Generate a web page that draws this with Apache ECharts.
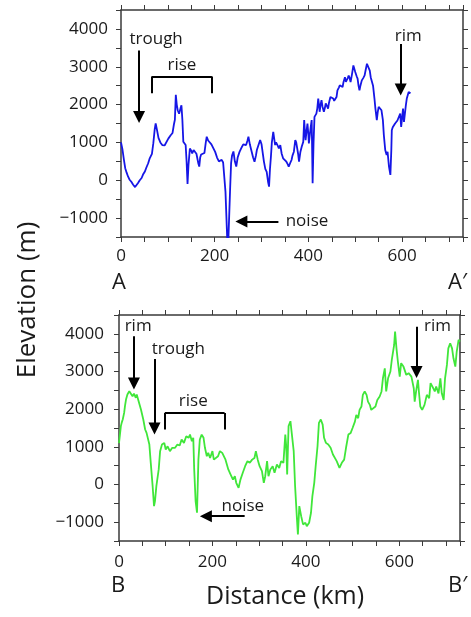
<!DOCTYPE html>
<html>
<head>
<meta charset="utf-8">
<script src="https://cdn.jsdelivr.net/npm/echarts@6/dist/echarts.min.js"></script>
<style>
html,body{margin:0;padding:0;background:#fff;}
#chart{width:471px;height:617px;}
</style>
</head>
<body>
<div id="chart"></div>
<script>
// profile A-A' (blue)
var topKm=[0,3,6,9,12,15,18,22,26,30,33,36,40,44,47,51,54,58,61,64,66,69,72,74,77,80,84,88,93,97,101,106,110,113,115,117,119,121,124,127,129,131,133,136,138,140,142,144,147,150,152,155,158,161,163,165,167,169,171,175,178,181,183,186,189,193,197,201,205,209,212,215,218,220,223,226,228,231,233,235,237,240,243,246,249,253,258,261,264,267,270,272,275,278,282,285,288,290,294,297,300,302,305,308,311,314,316,318,320,322,325,327,329,331,333,335,337,340,343,346,350,353,356,358,361,364,366,369,372,374,376,378,380,383,386,389,391,393,394,396,398,400,401,403,405,407,408,409,411,413,415,417,419,421,423,424,426,428,430,433,435,437,440,442,444,447,450,453,455,458,460,462,465,467,470,473,475,478,480,481,484,486,488,490,493,496,498,500,503,505,507,509,511,514,517,520,522,525,527,529,531,533,536,538,541,543,546,548,550,552,554,556,559,561,564,567,569,570,572,575,577,578,580,583,585,588,590,593,596,598,602,604,608,610,614,618];
var topElev=[1000,820,560,320,200,100,20,-40,-120,-180,-140,-80,0,60,150,230,330,450,570,600,700,980,1350,1500,1320,1120,1000,930,920,950,1100,1190,1250,1480,1600,2260,2000,1850,1760,1900,1980,1600,1020,980,930,500,-100,400,840,780,710,800,750,700,720,450,360,600,680,700,720,1000,1150,1050,1000,950,920,750,600,500,520,540,470,460,-300,-1300,-2000,-2000,-200,450,650,760,500,360,600,750,880,950,980,930,1050,1150,950,800,600,490,650,800,950,1060,950,900,500,300,220,-50,-170,300,620,1000,1280,1100,930,1000,1015,900,840,930,700,580,530,490,420,360,450,535,650,755,1060,1000,1015,700,490,755,900,1015,1590,1200,1060,1300,1500,1200,975,1200,1410,1590,800,-80,1000,1675,1650,1760,1900,2160,1950,1810,2000,2115,1950,1810,1900,2030,1950,1895,2050,2200,2180,2160,2100,2070,2200,2375,2450,2510,2480,2465,2600,2725,2600,2550,2700,2770,2700,2595,2800,3035,2990,2860,2750,2685,2500,2375,2500,2640,2700,2770,2900,3080,3100,3080,2900,2725,2685,2500,2160,1900,1590,1800,1940,1970,1980,1850,1590,1200,800,665,750,800,360,140,800,1320,1400,1430,1500,1540,1580,1630,1760,1410,1895,1540,1980,2160,2330,2300];
// profile B-B' (green)
var botKm=[0,2,4,6,8,11,13,15,18,22,25,29,32,36,38,42,47,52,56,59,62,65,68,72,75,77,80,85,88,92,97,100,104,109,114,120,125,130,134,139,144,149,152,156,159,161,164,167,170,173,177,181,184,188,191,195,200,203,207,212,216,221,225,228,234,239,244,248,251,256,260,265,270,275,280,285,290,293,297,301,306,310,313,317,320,324,329,333,338,343,347,352,356,358,360,363,367,370,374,377,381,383,386,390,394,399,402,407,411,414,418,421,425,428,432,436,439,443,448,453,458,461,466,472,477,482,486,491,496,500,505,508,512,515,519,522,526,530,533,537,540,544,549,553,558,562,565,569,572,576,581,584,589,591,594,597,601,604,609,615,620,626,631,633,636,640,642,645,649,654,659,664,667,671,676,679,684,688,691,695,698,702,705,709,713,716,720,723,727,730];
var botElev=[1100,1150,1550,1650,1725,1900,2100,2255,2390,2475,2430,2340,2415,2300,2390,2210,1990,1725,1460,1370,1325,1060,575,-45,-575,-440,-45,400,885,1060,1105,930,1015,885,975,975,1060,1035,1195,1105,1280,1240,1325,1150,1240,400,-440,-750,660,1195,1325,1240,975,750,840,705,885,660,620,750,885,840,885,660,400,265,130,220,45,-90,130,310,485,620,575,660,705,885,660,485,355,45,220,620,220,400,485,310,530,440,620,575,1325,1015,265,1550,1680,1635,885,-45,-930,-1325,-575,-840,-1060,-1015,-1105,-1015,-750,-310,45,485,1015,1635,1725,1590,1240,1105,1060,975,795,840,620,440,575,660,975,1325,1370,1500,1670,1850,1760,1980,2070,2380,2470,2380,2200,2115,1980,1935,2070,2245,2335,2470,2820,3085,2470,2820,3000,3310,3705,4060,3615,3265,2865,3220,3130,2910,2955,2865,2555,2200,2470,2780,2470,2070,1980,2115,2380,2290,2690,2600,2470,2600,2420,2820,2420,2245,2820,3175,3615,3750,3615,3350,3130,3530,3840,3795];

var xLabels=[0,200,400,600];
var yLabels=[-1000,0,1000,2000,3000,4000];

var FONT='Open Sans';
var INK='#1a1a1a';
var FRAME='#3a3a3a';

function zip(a,b){
	var out=[];
	for(var i=0;i<a.length;i++){
		out.push([a[i],b[i]]);
	}
	return out;
}

function xAxisDef(grid,pos,labels,margin){
	return {
		type:'value',gridIndex:grid,position:pos,min:0,max:730,interval:50,
		axisLine:{show:true,onZero:false,lineStyle:{color:FRAME,width:1.5}},
		axisTick:{show:true,length:5,lineStyle:{color:FRAME,width:1}},
		splitLine:{show:false},
		axisLabel:{show:labels,margin:margin,fontFamily:FONT,fontSize:17,color:INK,
			formatter:function(v){return xLabels.indexOf(v)>=0?String(v):'';}}
	};
}
function yAxisDef(grid,pos,labels,margin){
	return {
		type:'value',gridIndex:grid,position:pos,min:-1500,max:4500,interval:500,
		axisLine:{show:true,onZero:false,lineStyle:{color:FRAME,width:1.5}},
		axisTick:{show:true,length:5,lineStyle:{color:FRAME,width:1}},
		splitLine:{show:false},
		axisLabel:{show:labels,margin:margin,fontFamily:FONT,fontSize:17,color:INK,
			formatter:function(v){
				if(yLabels.indexOf(v)<0) return '';
				return v<0?'\u2212'+(-v):String(v);
			}}
	};
}

// arrow from (x1,y1) to (x2,y2), head drawn at the end
function arrow(x1,y1,x2,y2){
	return [{coord:[x1,y1],symbol:'none'},{coord:[x2,y2],symbol:'triangle'}];
}
function seg(x1,y1,x2,y2){
	return [{coord:[x1,y1],symbol:'none'},{coord:[x2,y2],symbol:'none'}];
}
function note(txt,x,y){
	return {name:txt,coord:[x,y]};
}

var markLineStyle={
	silent:true,animation:false,symbolSize:12,
	label:{show:false},
	lineStyle:{color:'#000',width:2,type:'solid'},
	itemStyle:{color:'#000'},
	emphasis:{disabled:true}
};
var markPointStyle={
	silent:true,animation:false,symbol:'rect',symbolSize:1,
	itemStyle:{color:'rgba(0,0,0,0)'},
	label:{show:true,position:'inside',formatter:'{b}',fontFamily:FONT,fontSize:17,color:INK}
};

var myChart=echarts.init(document.getElementById('chart'),null,{renderer:'canvas'});

var option={
	backgroundColor:'#fff',
	animation:false,
	grid:[
		{left:121,top:10,width:342,height:227},
		{left:119,top:315,width:341,height:226}
	],
	xAxis:[
		xAxisDef(0,'bottom',true,11),
		xAxisDef(0,'top',false,8),
		xAxisDef(1,'bottom',true,13),
		xAxisDef(1,'top',false,8)
	],
	yAxis:[
		yAxisDef(0,'left',true,13),
		yAxisDef(0,'right',false,8),
		yAxisDef(1,'left',true,15),
		yAxisDef(1,'right',false,8)
	],
	series:[
		{
			type:'line',xAxisIndex:0,yAxisIndex:0,
			data:zip(topKm,topElev),
			showSymbol:false,clip:true,
			lineStyle:{color:'#1616e6',width:1.8},
			markLine:echarts.util.merge({data:[
				arrow(38.5,3430,38.5,1670),
				arrow(597,3600,597,2400),
				arrow(336,-1090,257,-1090),
				seg(65.7,2300,65.7,2745),
				seg(65.7,2745,194,2745),
				seg(194,2745,194,2300)
			]},markLineStyle),
			markPoint:echarts.util.merge({data:[
				note('trough',75,3740),
				note('rise',130,3030),
				note('noise',397,-1090),
				note('rim',613,3820)
			]},markPointStyle)
		},
		{
			type:'line',xAxisIndex:2,yAxisIndex:2,
			data:zip(botKm,botElev),
			showSymbol:false,clip:true,
			lineStyle:{color:'#40e63a',width:1.8},
			markLine:echarts.util.merge({data:[
				arrow(32,3935,32,2680),
				arrow(76,3335,76,1486),
				arrow(637,4190,637,2990),
				arrow(269,-840,186,-840),
				seg(98,1460,98,1900),
				seg(98,1900,226,1900),
				seg(226,1900,226,1460)
			]},markLineStyle),
			markPoint:echarts.util.merge({data:[
				note('rim',41,4200),
				note('trough',127,3580),
				note('rise',159,2210),
				note('noise',265,-575),
				note('rim',682,4200)
			]},markPointStyle)
		}
	],
	graphic:[
		{type:'text',left:112,top:272,style:{text:'A',font:'22px "Open Sans"',fill:INK}},
		{type:'text',left:448,top:272,style:{text:'A\u2032',font:'22px "Open Sans"',fill:INK}},
		{type:'text',left:111,top:575,style:{text:'B',font:'22px "Open Sans"',fill:INK}},
		{type:'text',left:448,top:575,style:{text:'B\u2032',font:'22px "Open Sans"',fill:INK}},
		{type:'text',left:206,top:584,style:{text:'Distance (km)',font:'25px "Open Sans"',fill:INK}},
		{type:'text',x:28,y:300,rotation:Math.PI/2,
			style:{text:'Elevation (m)',font:'26px "Open Sans"',fill:INK,align:'center',verticalAlign:'middle'}}
	]
};
myChart.setOption(option);
</script>
</body>
</html>
